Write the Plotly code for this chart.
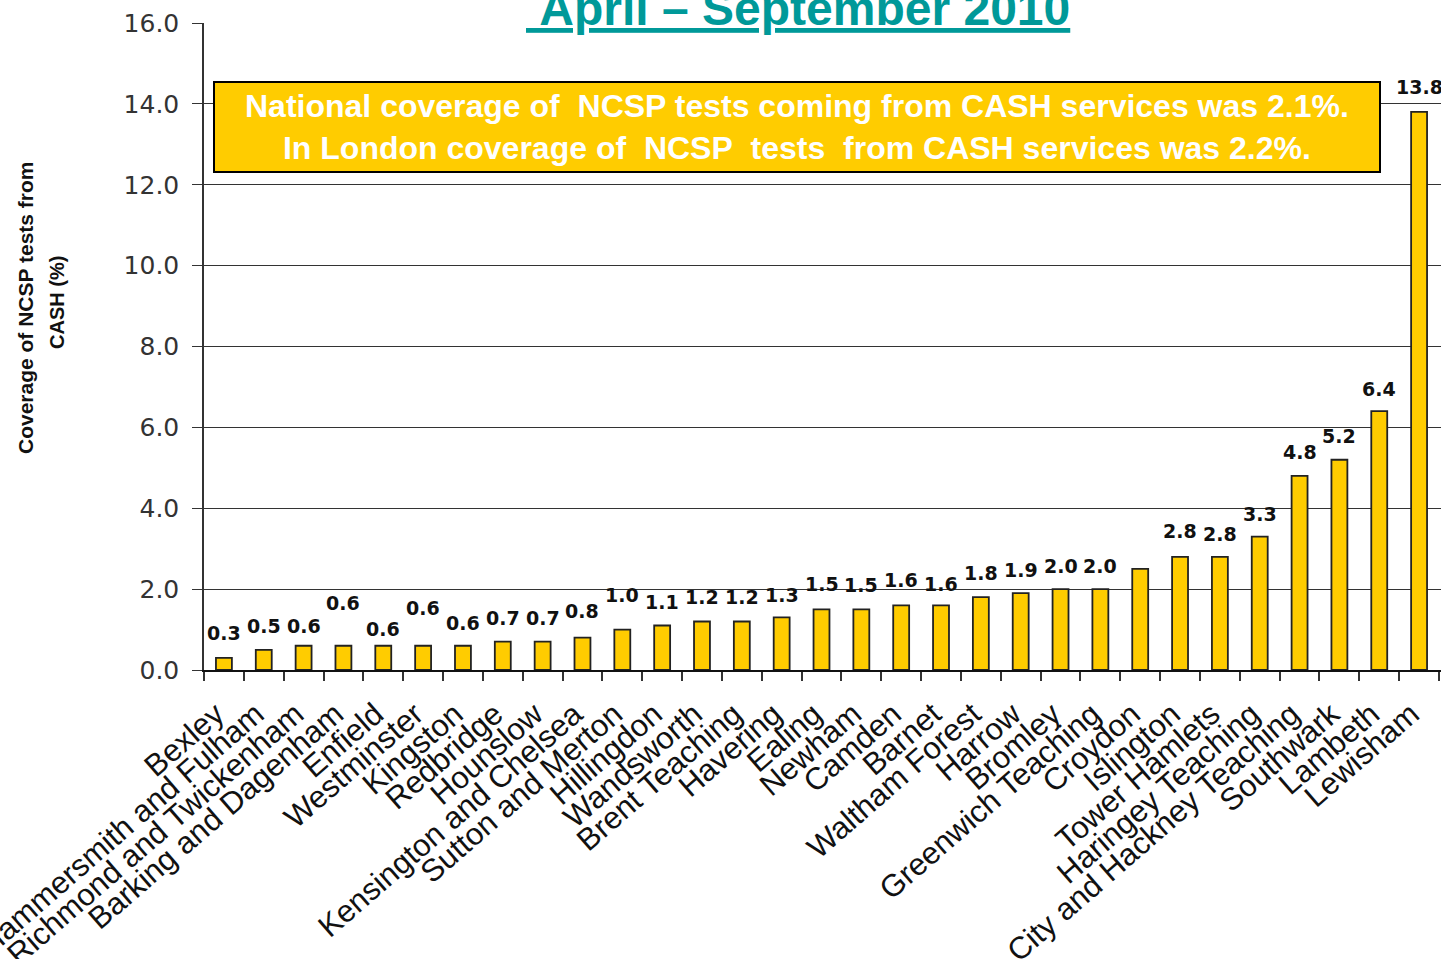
import plotly.graph_objects as go

# Primary care trusts, ordered by coverage
areas = [
    "Bexley", "Hammersmith and Fulham", "Richmond and Twickenham",
    "Barking and Dagenham", "Enfield", "Westminster", "Kingston", "Redbridge",
    "Hounslow", "Kensington and Chelsea", "Sutton and Merton", "Hillingdon",
    "Wandsworth", "Brent Teaching", "Havering", "Ealing", "Newham", "Camden",
    "Barnet", "Waltham Forest", "Harrow", "Bromley", "Greenwich Teaching",
    "Croydon", "Islington", "Tower Hamlets", "Haringey Teaching",
    "City and Hackney Teaching", "Southwark", "Lambeth", "Lewisham",
]

# Coverage of NCSP tests from CASH services (%)
coverage = [
    0.3, 0.5, 0.6, 0.6, 0.6, 0.6, 0.6, 0.7, 0.7, 0.8, 1.0, 1.1, 1.2, 1.2, 1.3,
    1.5, 1.5, 1.6, 1.6, 1.8, 1.9, 2.0, 2.0, 2.5, 2.8, 2.8, 3.3, 4.8, 5.2, 6.4,
    13.8,
]

# Data labels shown above the bars (Croydon is unlabelled)
value_labels = [
    "0.3", "0.5", "0.6", "0.6", "0.6", "0.6", "0.6", "0.7", "0.7", "0.8", "1.0",
    "1.1", "1.2", "1.2", "1.3", "1.5", "1.5", "1.6", "1.6", "1.8", "1.9", "2.0",
    "2.0", "", "2.8", "2.8", "3.3", "4.8", "5.2", "6.4", "13.8",
]

# vertical lift of each data label above its bar, in pixels
label_lift = [
    25, 24, 20, 43, 17, 38, 23, 24, 24, 27, 35, 24, 24, 24, 22, 25, 24, 25, 21,
    24, 23, 23, 23, 0, 26, 23, 23, 24, 24, 22, 25,
]

title_text = "\u00a0April \u2013 September 2010"
note_lines = [
    "National coverage of\u00a0 NCSP tests coming from CASH services was 2.1%.",
    "In London coverage of\u00a0 NCSP\u00a0 tests\u00a0 from CASH services was 2.2%.",
]
y_title_lines = ["Coverage of NCSP tests from", "CASH (%)"]

W, H = 1441, 959
ML, MR, MT, MB = 204, 0, 23, 289
PW, PH = W - ML - MR, H - MT - MB


def px(x):
    return (x - ML) / PW


def py(y):
    return (H - MB - y) / PH


fig = go.Figure()
fig.add_trace(go.Bar(
    x=areas, y=coverage, width=0.4,
    marker=dict(color="#FFCC00", line=dict(color="#222222", width=1.8)),
    hoverinfo="x+y",
))

for a, v, t, lift in zip(areas, coverage, value_labels, label_lift):
    if not t:
        continue
    fig.add_annotation(
        x=a, y=v, xref="x", yref="y", text=t, showarrow=False,
        xanchor="center", yanchor="middle", yshift=lift,
        font=dict(family="DejaVu Sans", size=19, color="#111111", weight="bold"),
    )

# yellow note box
fig.add_shape(
    type="rect", xref="paper", yref="paper",
    x0=px(214), x1=px(1380), y0=py(172), y1=py(82),
    fillcolor="#FFCC00", line=dict(color="#000000", width=2), layer="above",
)
fig.add_annotation(
    xref="paper", yref="paper", x=px(797), y=py(127),
    xanchor="center", yanchor="middle",
    text="<br>".join(note_lines), showarrow=False, align="center",
    font=dict(family="Liberation Sans, Arial", size=32, color="#FFFFFF", weight="bold"),
)

# chart title
fig.add_annotation(
    xref="paper", yref="paper", x=px(798), y=1, xanchor="center",
    yanchor="middle", yshift=15,
    text="<u>" + title_text + "</u>", showarrow=False,
    font=dict(family="Liberation Sans, Arial", size=48, color="#009999", weight="bold"),
)

# y-axis title, two rotated lines
fig.add_annotation(
    xref="paper", yref="paper", x=px(25), y=py(308), textangle=-90,
    xanchor="center", yanchor="middle",
    text=y_title_lines[0], showarrow=False,
    font=dict(family="Liberation Sans, Arial", size=21, color="#111111", weight="bold"),
)
fig.add_annotation(
    xref="paper", yref="paper", x=px(57), y=py(303), textangle=-90,
    xanchor="center", yanchor="middle",
    text=y_title_lines[1], showarrow=False,
    font=dict(family="Liberation Sans, Arial", size=20, color="#111111", weight="bold"),
)

fig.update_layout(
    width=W, height=H,
    margin=dict(l=ML, r=MR, t=MT, b=MB, pad=0, autoexpand=False),
    paper_bgcolor="white", plot_bgcolor="white",
    showlegend=False,
    xaxis=dict(
        type="category", range=[-0.5, 30.55], tickangle=-41, automargin=False,
        ticks="outside", tickson="boundaries", ticklen=9, tickwidth=1.5,
        tickcolor="#333333", showline=True, linecolor="#111111", linewidth=1.5,
        showgrid=False, ticklabelstandoff=12, ticklabelshift=-8,
        tickfont=dict(family="Liberation Sans, Arial", size=31, color="#111111"),
    ),
    yaxis=dict(
        range=[0, 16], dtick=2, tickformat=".1f", automargin=False,
        ticks="outside", ticklen=10, tickwidth=1, tickcolor="#333333",
        showline=True, linecolor="#333333", linewidth=1.5,
        showgrid=True, gridcolor="#333333", gridwidth=1, zeroline=False,
        ticklabelstandoff=8,
        tickfont=dict(family="DejaVu Sans", size=25, color="#333333"),
    ),
)

fig.write_html("out.html")
